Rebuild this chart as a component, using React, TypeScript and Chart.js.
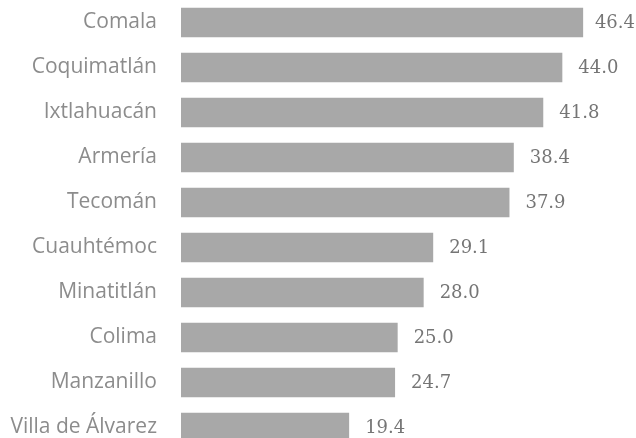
import React, { useEffect, useRef } from "react";
import { Chart, registerables } from "chart.js";

Chart.register(...registerables);

const categories = [
  "Comala",
  "Coquimatlán",
  "Ixtlahuacán",
  "Armería",
  "Tecomán",
  "Cuauhtémoc",
  "Minatitlán",
  "Colima",
  "Manzanillo",
  "Villa de Álvarez",
];
const values = [46.4, 44.0, 41.8, 38.4, 37.9, 29.1, 28.0, 25.0, 24.7, 19.4];

const valueLabels = {
  id: "valueLabels",
  afterDatasetsDraw(chart: any) {
    const ctx = chart.ctx;
    const meta = chart.getDatasetMeta(0);
    ctx.save();
    ctx.font = "18px 'DejaVu Serif', 'Liberation Serif', serif";
    ctx.fillStyle = "#757575";
    ctx.textAlign = "left";
    ctx.textBaseline = "middle";
    meta.data.forEach((bar: any, i: number) => {
      const v = chart.data.datasets[0].data[i] as number;
      const txt = v.toFixed(1);
      const w = ctx.measureText(txt).width;
      const x = Math.min(bar.x + 16, chart.width - w - 1);
      ctx.fillText(txt, x, bar.y + 1);
    });
    ctx.restore();
  },
};

export default function App() {
  const ref = useRef<HTMLCanvasElement | null>(null);
  useEffect(() => {
    document.body.style.margin = "0";
    document.body.style.overflow = "hidden";
    if (!ref.current) return;
    const chart = new Chart(ref.current, {
      type: "bar",
      data: {
        labels: categories,
        datasets: [
          {
            data: values,
            backgroundColor: "#a8a8a8",
            borderWidth: 0,
            categoryPercentage: 1,
            barPercentage: 0.66,
          },
        ],
      },
      options: {
        indexAxis: "y",
        animation: false,
        responsive: false,
        maintainAspectRatio: false,
        layout: { padding: 0 },
        plugins: {
          legend: { display: false },
          tooltip: { enabled: false },
        },
        scales: {
          x: {
            display: false,
            min: 0,
            max: 52.5,
          },
          y: {
            grid: { display: false, drawTicks: false },
            border: { display: false },
            ticks: {
              padding: 24,
              color: "#8c8c8c",
              font: { family: "'Open Sans', sans-serif", size: 21 },
            },
            afterFit(scale: any) {
              scale.width = 181;
              scale.paddingTop = 0;
              scale.paddingBottom = 0;
            },
          },
        },
      },
      plugins: [valueLabels],
    });
    return () => chart.destroy();
  }, []);
  return (
    <div style={{ width: 636, height: 450 }}>
      <canvas ref={ref} width={636} height={450} />
    </div>
  );
}
